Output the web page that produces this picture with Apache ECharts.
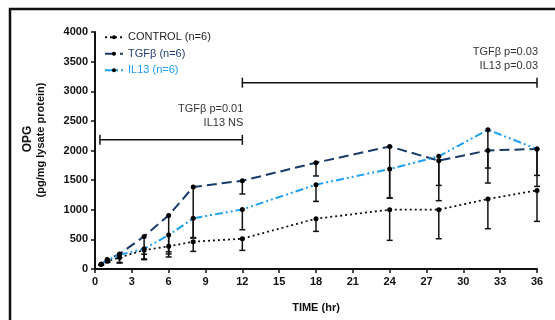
<!DOCTYPE html>
<html>
<head>
<meta charset="utf-8">
<script src="https://cdn.jsdelivr.net/npm/echarts@6/dist/echarts.min.js"></script>
<style>
  html, body { margin: 0; padding: 0; background: #fff; }
  #chart { width: 555px; height: 320px; }
</style>
</head>
<body>
<div id="chart"></div>
<script>
// time points (hr)
const times = [0.5, 1, 2, 4, 6, 8, 12, 18, 24, 28, 32, 36];

// means and lower error bounds
const control = [80, 130, 195, 320, 382, 461, 511, 849, 1001, 1001, 1181, 1327];
const controlLow = [70, 110, 100, 157, 203, 297, 314, 635, 483, 511, 680, 804];
const tgfb = [80, 160, 253, 550, 905, 1384, 1490, 1794, 2069, 1828, 2002, 2025];
const tgfbLow = [70, 120, 190, 170, 253, 523, 1266, 1570, 1198, 1411, 1704, 1580];
const il13 = [80, 150, 240, 340, 573, 855, 1006, 1423, 1688, 1901, 2351, 2025];
const il13Low = [70, 120, 110, 250, 290, 530, 663, 1141, 1198, 1153, 1451, 1394];

// significance brackets
const bracketStart = [0.4, 12];
const bracketEnd = [12, 36];
const bracketY = [2180, 3145];
const bracketText = [['TGFβ p=0.01', 'IL13 NS'], ['TGFβ p=0.03', 'IL13 p=0.03']];

const seriesNames = ['CONTROL (n=6)', 'TGFβ (n=6)', 'IL13 (n=6)'];
const FONT = 'Liberation Sans, Arial, sans-serif';

const chart = echarts.init(document.getElementById('chart'));

function pairs(vals) {
  return times.map((t, i) => [t, vals[i]]);
}

function errData(vals, lows) {
  return times.map((t, i) => [t, vals[i], lows[i]]);
}

function renderErr(params, api) {
  const top = api.coord([api.value(0), api.value(1)]);
  const bot = api.coord([api.value(0), api.value(2)]);
  const st = { stroke: '#111', lineWidth: 1.5 };
  return {
    type: 'group',
    children: [
      { type: 'line', shape: { x1: top[0], y1: top[1], x2: bot[0], y2: bot[1] }, style: st },
      { type: 'line', shape: { x1: bot[0] - 3, y1: bot[1], x2: bot[0] + 3, y2: bot[1] }, style: st }
    ]
  };
}

function errSeries(vals, lows) {
  return {
    type: 'custom',
    renderItem: renderErr,
    data: errData(vals, lows),
    z: 3,
    silent: true
  };
}

const bracketData = bracketStart.map((s, i) => [s, bracketEnd[i], bracketY[i], i]);

function renderBracket(params, api) {
  const a = api.coord([api.value(0), api.value(2)]);
  const b = api.coord([api.value(1), api.value(2)]);
  const lines = bracketText[api.value(3)];
  const st = { stroke: '#111', lineWidth: 1.5 };
  return {
    type: 'group',
    children: [
      { type: 'line', shape: { x1: a[0], y1: a[1], x2: b[0], y2: b[1] }, style: st },
      { type: 'line', shape: { x1: a[0], y1: a[1] - 5, x2: a[0], y2: a[1] + 5 }, style: st },
      { type: 'line', shape: { x1: b[0], y1: b[1] - 5, x2: b[0], y2: b[1] + 5 }, style: st },
      {
        type: 'text',
        style: {
          x: b[0] + 1, y: b[1] - 10,
          text: lines.join('\n'),
          align: 'right', verticalAlign: 'bottom',
          font: '11px ' + FONT, fill: '#333', lineHeight: 14
        }
      }
    ]
  };
}

const option = {
  animation: false,
  textStyle: { fontFamily: FONT },
  graphic: [
    {
      type: 'rect',
      shape: { x: 10, y: 9, width: 700, height: 500 },
      style: { fill: 'none', stroke: '#111', lineWidth: 2.5 },
      silent: true
    },
    {
      type: 'text',
      x: 28, y: 139, rotation: Math.PI / 2,
      style: {
        text: 'OPG', align: 'center', verticalAlign: 'middle',
        font: 'bold 12px ' + FONT, fill: '#111'
      }
    },
    {
      type: 'text',
      x: 41, y: 140, rotation: Math.PI / 2,
      style: {
        text: '(pg/mg lysate protein)', align: 'center', verticalAlign: 'middle',
        font: 'bold 11px ' + FONT, fill: '#111'
      }
    }
  ],
  legend: {
    orient: 'vertical',
    left: 99,
    top: 26,
    itemWidth: 18,
    itemHeight: 5,
    itemGap: 4,
    textStyle: { fontSize: 11, fontFamily: FONT, lineHeight: 12.5 },
    data: [
      { name: seriesNames[0], textStyle: { color: '#222' } },
      { name: seriesNames[1], textStyle: { color: '#1f3e6e' } },
      { name: seriesNames[2], textStyle: { color: '#1ea0f5' } }
    ]
  },
  grid: { left: 95, right: 18, top: 32, bottom: 51 },
  xAxis: {
    type: 'value',
    min: 0, max: 36, interval: 3,
    name: 'TIME (hr)',
    nameLocation: 'middle',
    nameGap: 33,
    nameTextStyle: { fontWeight: 'bold', fontSize: 11, color: '#111' },
    splitLine: { show: false },
    axisLine: { lineStyle: { color: '#111', width: 2 } },
    axisTick: { show: true, length: 4, lineStyle: { color: '#111', width: 1.5 } },
    axisLabel: { fontWeight: 'bold', fontSize: 11, color: '#111', margin: 7 }
  },
  yAxis: {
    type: 'value',
    min: 0, max: 4000, interval: 500,
    splitLine: { show: false },
    axisLine: { show: true, lineStyle: { color: '#111', width: 2 } },
    axisTick: { show: true, length: 4, lineStyle: { color: '#111', width: 1.5 } },
    axisLabel: {
      fontWeight: 'bold', fontSize: 11, color: '#111', margin: 7,
      formatter: v => String(v)
    }
  },
  series: [
    errSeries(control, controlLow),
    errSeries(tgfb, tgfbLow),
    errSeries(il13, il13Low),
    {
      name: seriesNames[0],
      type: 'line',
      data: pairs(control),
      symbol: 'circle', symbolSize: 5,
      itemStyle: { color: '#000' },
      lineStyle: { color: '#111', width: 1.8, type: [2, 3] },
      z: 4
    },
    {
      name: seriesNames[1],
      type: 'line',
      data: pairs(tgfb),
      symbol: 'circle', symbolSize: 5,
      itemStyle: { color: '#000' },
      lineStyle: { color: '#173a68', width: 2, type: [10, 5] },
      z: 4
    },
    {
      name: seriesNames[2],
      type: 'line',
      data: pairs(il13),
      symbol: 'circle', symbolSize: 5,
      itemStyle: { color: '#000' },
      lineStyle: { color: '#1ba0f2', width: 2, type: [8, 3, 2, 3, 2, 3] },
      z: 4
    },
    {
      type: 'custom',
      renderItem: renderBracket,
      data: bracketData,
      silent: true,
      z: 2
    }
  ]
};

chart.setOption(option);
</script>
</body>
</html>
